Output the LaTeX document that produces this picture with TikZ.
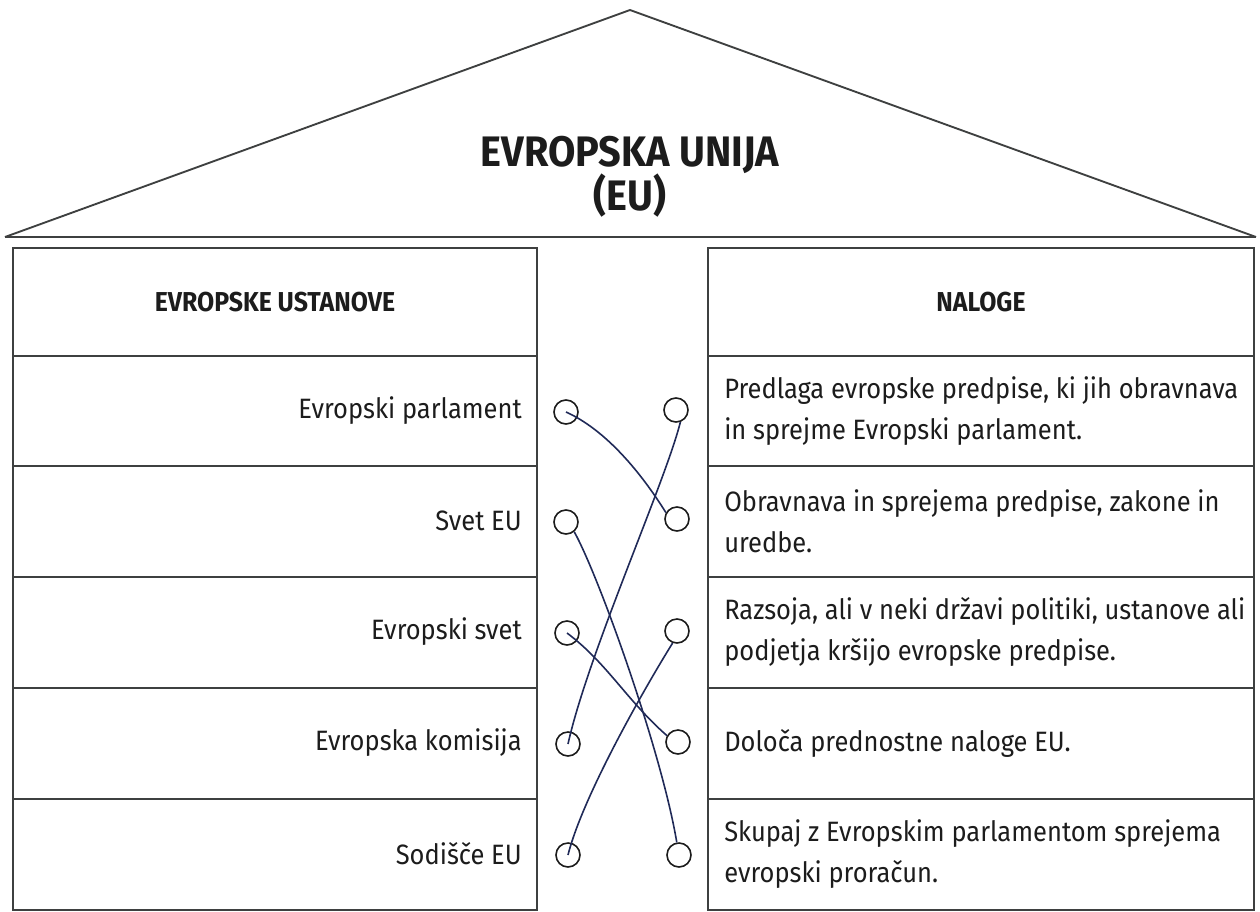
\documentclass[tikz,border=0pt]{standalone}
\usepackage{fontspec}
\setmainfont{Fira Sans}[FakeStretch=0.91]
\newfontfamily\titlefont{Fira Sans}[FakeStretch=0.93]
\usepackage{tikz}

\definecolor{boxline}{RGB}{62,64,64}
\definecolor{inktext}{RGB}{28,28,28}
\definecolor{linkblue}{RGB}{32,42,88}

\begin{document}
\begin{tikzpicture}[x=0.75pt,y=0.75pt,yscale=-1,xscale=1,
		frame/.style={draw=boxline,line width=1.4pt},
		label/.style={text=inktext,inner sep=0pt,font=\fontsize{21}{31}\selectfont},
		head/.style={text=inktext,inner sep=0pt,font=\fontsize{20.5}{31}\selectfont\bfseries},
		ring/.style={circle,draw=inktext,line width=1.2pt,minimum size=18pt,inner sep=0pt},
		link/.style={draw=linkblue,line width=1.2pt}]
		%set diagram at 1260 x 911
		\useasboundingbox (0,0) rectangle (1260,911);
		
		% roof
		\draw [frame] (5,237) -- (630,10) -- (1256,237) ;
		\draw [draw=boxline,line width=2pt] (5,237) -- (1256,237) ;
		\node (title) [text=inktext,align=center,font=\fontsize{32}{33}\titlefont\bfseries] at (630,177) {EVROPSKA UNIJA\\(EU)};
		
		% left column
		\draw [frame] (13,248) rectangle (537,356) ;
		\draw [frame] (13,356) rectangle (537,466) ;
		\draw [frame] (13,466) rectangle (537,577) ;
		\draw [frame] (13,577) rectangle (537,688) ;
		\draw [frame] (13,688) rectangle (537,799) ;
		\draw [frame] (13,799) rectangle (537,910) ;
		
		% right column
		\draw [frame] (708,248) rectangle (1254,356) ;
		\draw [frame] (708,356) rectangle (1254,466) ;
		\draw [frame] (708,466) rectangle (1254,577) ;
		\draw [frame] (708,577) rectangle (1254,688) ;
		\draw [frame] (708,688) rectangle (1254,799) ;
		\draw [frame] (708,799) rectangle (1254,910) ;
		
		\node (ustanove) [head] at (275,302) {EVROPSKE USTANOVE};
		\node (naloge) [head] at (981,302) {NALOGE};
		
		\node (parlament) [label,anchor=east] at (522,411) {Evropski parlament};
		\node (svet) [label,anchor=east] at (522,521) {Svet EU};
		\node (evsvet) [label,anchor=east] at (522,632) {Evropski svet};
		\node (komisija) [label,anchor=east] at (522,743) {Evropska komisija};
		\node (sodisce) [label,anchor=east] at (522,854) {Sodišče EU};
		
		\node (predlaga) [label,anchor=west,align=left] at (724,411) {Predlaga evropske predpise, ki jih obravnava\\in sprejme Evropski parlament.};
		\node (obravnava) [label,anchor=west,align=left] at (724,521) {Obravnava in sprejema predpise, zakone in\\uredbe.};
		\node (razsoja) [label,anchor=west,align=left] at (724,632) {Razsoja, ali v neki državi politiki, ustanove ali\\podjetja kršijo evropske predpise.};
		\node (doloca) [label,anchor=west,align=left] at (724,743) {Določa prednostne naloge EU.};
		\node (skupaj) [label,anchor=west,align=left] at (724,854) {Skupaj z Evropskim parlamentom sprejema\\evropski proračun.};
		
		% circles
		\node (l1) [ring] at (566,412) {};
		\node (l2) [ring] at (566,522) {};
		\node (l3) [ring] at (567,633) {};
		\node (l4) [ring] at (568,744) {};
		\node (l5) [ring] at (568,855) {};
		\node (r1) [ring] at (676,410) {};
		\node (r2) [ring] at (677,519) {};
		\node (r3) [ring] at (677,631) {};
		\node (r4) [ring] at (678,742) {};
		\node (r5) [ring] at (679,855) {};
		
		% answers
		\draw [link] (l1.center) .. controls +(40,18) and +(-25,-40) .. (r2.150) ;
		\draw [link] (l2.-50) .. controls +(25,45) and +(-15,-90) .. (r5.100) ;
		\draw [link] (l3.center) .. controls +(40,30) and +(-40,-35) .. (r4.150) ;
		\draw [link] (l4.center) .. controls +(20,-90) and +(-15,60) .. (r1.-70) ;
		\draw [link] (l5.center) .. controls +(15,-60) and +(-25,40) .. (r3.-110) ;
		
\end{tikzpicture}
\end{document}
